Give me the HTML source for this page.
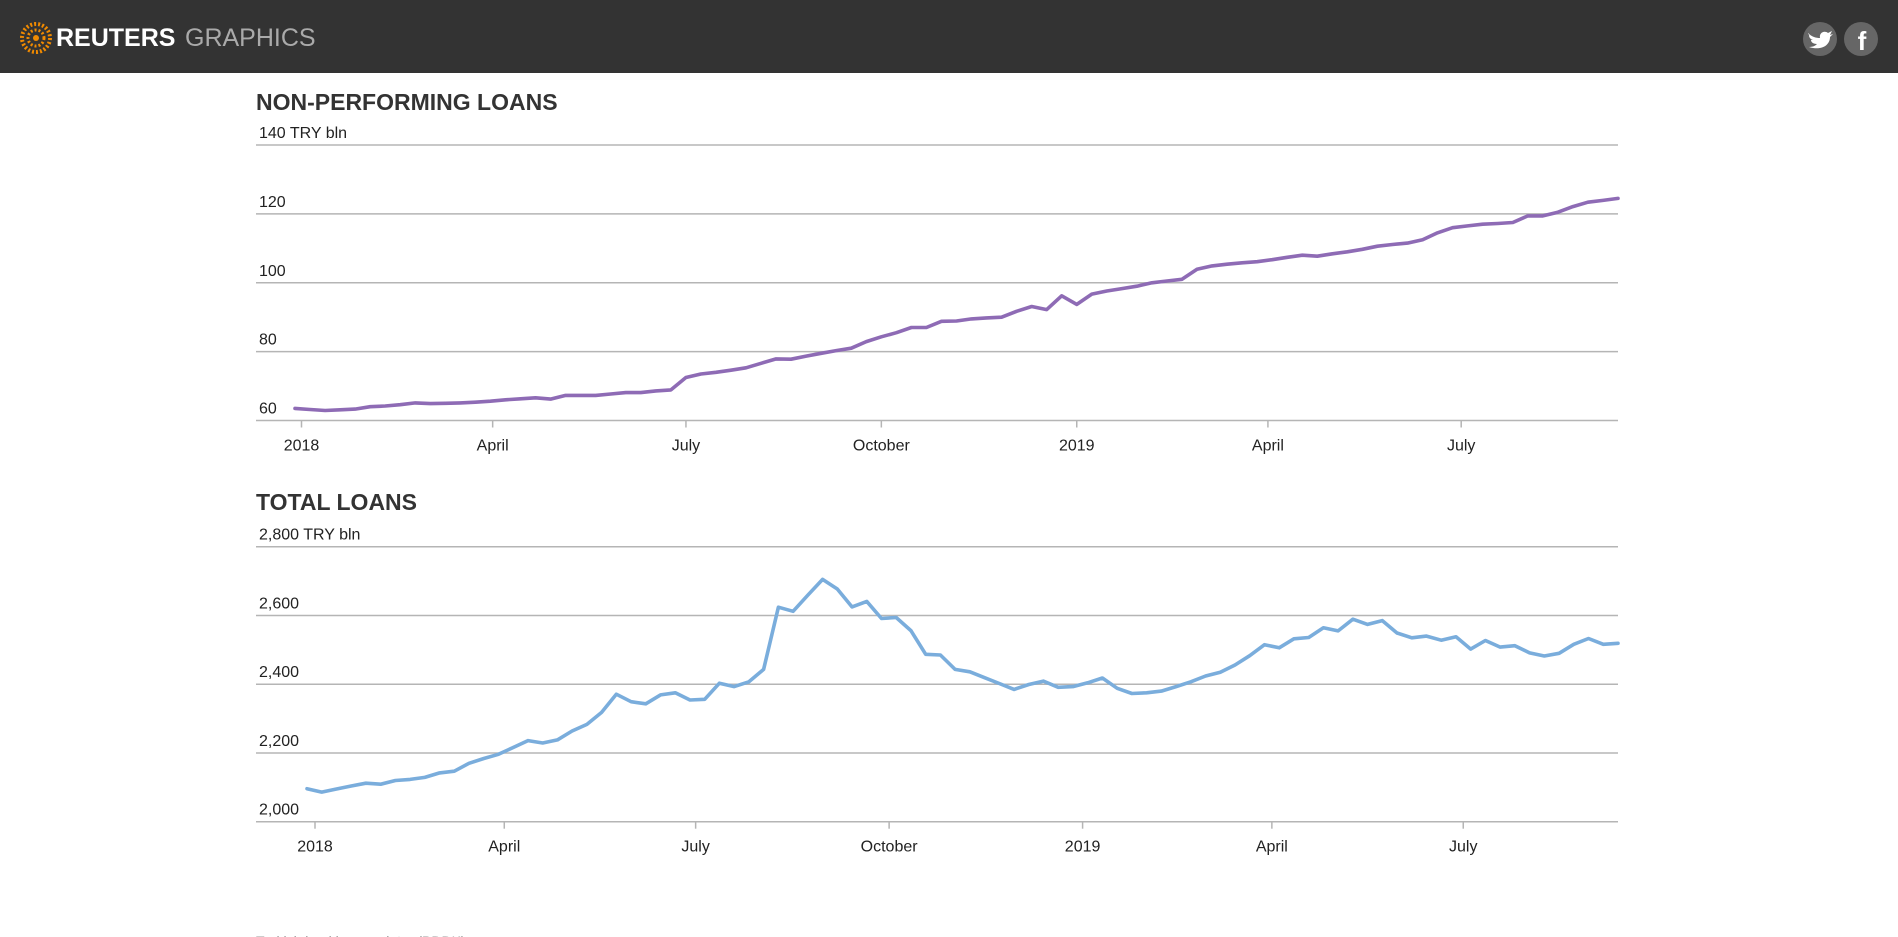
<!DOCTYPE html>
<html><head><meta charset="utf-8">
<style>
html,body{margin:0;padding:0;background:#fff;overflow:hidden;}
body{width:1898px;height:937px;position:relative;font-family:"Liberation Sans",sans-serif;}
#hdr{position:absolute;left:0;top:0;width:1898px;height:73px;background:#333;}
#chart{position:absolute;left:0;top:0;}
</style></head>
<body>
<div id="hdr">
<svg width="1898" height="73">
  <g>
    <circle cx="36" cy="38" r="14" fill="none" stroke="#f08a00" stroke-width="4" stroke-dasharray="2 2"/>
    <circle cx="36" cy="38" r="8" fill="none" stroke="#f08a00" stroke-width="3" stroke-dasharray="2 2"/>
    <circle cx="36" cy="38" r="3" fill="#f08a00"/>
  </g>
  <text x="56" y="46" font-size="25" font-weight="bold" fill="#fff" font-family="Liberation Sans, sans-serif">REUTERS</text>
  <text x="185" y="46" font-size="25" fill="#aaa" font-family="Liberation Sans, sans-serif">GRAPHICS</text>
  <g>
    <circle cx="1820" cy="39" r="17" fill="#666"/>
    <path d="M1808 33 C1812 37 1816 38 1820 38 C1819 33 1824 30 1828 33 L1832 31 L1830 35 L1833 34 L1830 37 C1830 45 1822 51 1809 47 C1814 47 1816 45 1817 44 C1813 44 1811 42 1811 40 L1813 40 C1810 39 1809 37 1809 35 L1811 36 C1809 35 1808 34 1808 33 Z" fill="#fff"/>
  </g>
  <g>
    <circle cx="1861" cy="39" r="17" fill="#666"/>
    <text x="1862" y="50" text-anchor="middle" font-size="26" fill="#fff" font-weight="bold" font-family="Liberation Sans, sans-serif">f</text>
  </g>
</svg>
</div>
<svg id="chart" width="1898" height="937"></svg>
<script>
// Non-performing loans (TRY bln), weekly
const nplValues = [63.5,63.2,62.9,63.1,63.3,64.0,64.2,64.6,65.1,64.9,65.0,65.1,65.3,65.6,66.0,66.3,66.6,66.2,67.3,67.3,67.3,67.7,68.1,68.1,68.6,68.9,72.5,73.5,74.0,74.6,75.3,76.6,77.9,77.8,78.7,79.5,80.3,81.0,82.9,84.3,85.5,87.0,87.0,88.8,88.9,89.5,89.8,90.0,91.7,93.1,92.2,96.2,93.7,96.7,97.6,98.3,99.0,100.0,100.5,101.0,103.9,104.9,105.4,105.8,106.1,106.7,107.4,108.0,107.7,108.4,109.0,109.7,110.6,111.1,111.5,112.5,114.5,116.0,116.5,117.0,117.2,117.5,119.4,119.4,120.5,122.1,123.4,123.9,124.5];
// Total loans (TRY bln), weekly
const totalValues = [2096,2086,2095,2104,2112,2109,2120,2123,2129,2142,2147,2170,2184,2196,2216,2236,2229,2238,2264,2283,2318,2371,2349,2343,2369,2375,2354,2356,2403,2393,2407,2443,2624,2612,2659,2705,2677,2625,2641,2591,2594,2556,2487,2485,2443,2436,2419,2402,2385,2399,2409,2391,2393,2404,2418,2388,2373,2375,2380,2393,2407,2424,2435,2456,2483,2515,2506,2532,2536,2564,2555,2589,2574,2585,2549,2535,2540,2528,2538,2502,2527,2508,2512,2491,2482,2490,2516,2533,2516,2519];
const nplTicksY = [60,80,100,120,140];
const totalTicksY = [2000,2200,2400,2600,2800];
const tickLabelsX = ["2018","April","July","October","2019","April","July"];
const tickDaysX = [3,93,184,276,368,458,549];

const NS="http://www.w3.org/2000/svg";
const svg=document.getElementById('chart');
function el(tag,attrs,parent,txt){const e=document.createElementNS(NS,tag);for(const k in attrs)e.setAttribute(k,attrs[k]);if(txt!==undefined)e.textContent=txt;(parent||svg).appendChild(e);return e;}

function drawChart(cfg){
  const g=el('g',{});
  
  
  const y=v=>cfg.y0+(v-cfg.vmin)/(cfg.vmax-cfg.vmin)*(cfg.y1-cfg.y0);
  const xi=i=>cfg.x0+i*(cfg.x1-cfg.x0)/(cfg.values.length-1);
  const xd=d=>cfg.t0+(d-3)*cfg.pxPerDay;
  const t=el('text',{x:256,y:cfg.titleY,'font-size':23,'font-weight':'bold',fill:'#333','font-family':'Liberation Sans, sans-serif'},g,cfg.title);
  
  
  cfg.ticksY.forEach((v,k)=>{
    const ln=el('line',{x1:256,x2:1618,y1:y(v),y2:y(v),stroke:'#b5b5b5','stroke-width':1.5},g);
    
    
    const lab=(cfg.fmt(v))+(k===cfg.ticksY.length-1?' TRY bln':'');
    const tx=el('text',{x:259,y:y(v)-7,'font-size':16,fill:'#222','font-family':'Liberation Sans, sans-serif'},g,lab);
    
    
  });
  tickDaysX.forEach((d,k)=>{
    const xx=xd(d);
    const tk=el('line',{x1:xx,x2:xx,y1:y(cfg.vmin),y2:y(cfg.vmin)+7,stroke:'#b5b5b5','stroke-width':1.5},g);
    
    
    const tl=el('text',{x:xx,y:y(cfg.vmin)+30,'font-size':16,fill:'#222','text-anchor':'middle','font-family':'Liberation Sans, sans-serif'},g,tickLabelsX[k]);
    
    
  });
  const d=cfg.values.map((v,i)=>(i?'L':'M')+xi(i).toFixed(1)+' '+y(v).toFixed(1)).join(' ');
  const p=el('path',{d:d,fill:'none',stroke:cfg.color,'stroke-width':3.6,'stroke-linejoin':'round','stroke-linecap':'round'},g);
  
  
}
drawChart({name:'npl-chart',title:'NON-PERFORMING LOANS',titleY:110,values:nplValues,ticksY:nplTicksY,vmin:60,vmax:140,y0:420.5,y1:145,x0:295,x1:1618,t0:301.5,pxPerDay:2.124,color:'#8e6bb5',fmt:v=>String(v)});
drawChart({name:'total-loans-chart',title:'TOTAL LOANS',titleY:510,values:totalValues,ticksY:totalTicksY,vmin:2000,vmax:2800,y0:821.7,y1:546.7,x0:307,x1:1618,t0:315,pxPerDay:2.103,color:'#7aaddc',fmt:v=>v.toLocaleString('en-US')});
const src=el('text',{x:256,y:946,'font-size':14,fill:'#999','font-family':'Liberation Sans, sans-serif'},svg,'Turkish banking regulator (BDDK)');


</script>
</body></html>
